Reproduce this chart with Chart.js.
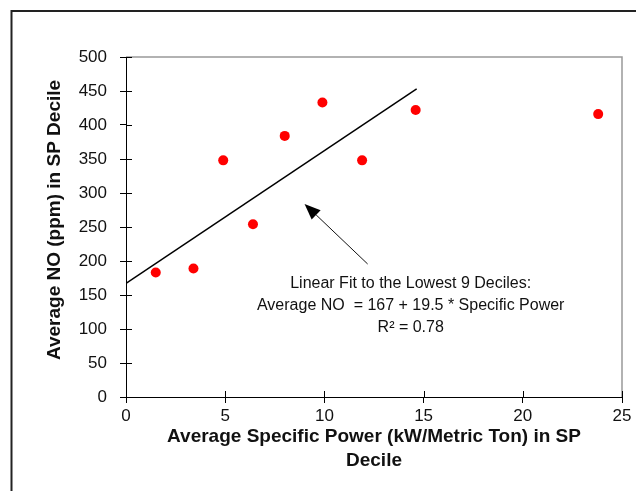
<!DOCTYPE html>
<html>
<head>
<meta charset="utf-8">
<script src="https://cdn.jsdelivr.net/npm/chart.js@4/dist/chart.umd.min.js"></script>
<style>
  html, body { margin: 0; padding: 0; background: #fff; }
  canvas { display: block; }
</style>
</head>
<body>
<canvas id="no-chart" width="636" height="491"></canvas>
<script>
// decile averages
const specificPower = [1.5, 3.4, 4.9, 6.4, 8.0, 9.9, 11.9, 14.6, 23.8];
const averageNO = [183, 189, 348, 254, 384, 433, 348, 422, 416];

// fitted line end points
const fitX = [0, 14.65];
const fitY = [167, 453];

const xTicks = [0, 5, 10, 15, 20, 25];
const yTicks = [0, 50, 100, 150, 200, 250, 300, 350, 400, 450, 500];

const fitText = [
    'Linear Fit to the Lowest 9 Deciles:',
    'Average NO  = 167 + 19.5 * Specific Power',
    'R\u00b2 = 0.78'
];

const FONT = '"Liberation Sans", Arial, sans-serif';

// frame, top/right box, inward tick halves, arrow, fit text, y title
const extrasPlugin = {
    id: 'extras',
    beforeDraw(chart) {
        const ctx = chart.ctx;
        ctx.save();
        ctx.strokeStyle = '#222';
        ctx.lineWidth = 2;
        ctx.beginPath();
        ctx.moveTo(11.5, 491);
        ctx.lineTo(11.5, 11);
        ctx.lineTo(636, 11);
        ctx.stroke();
        ctx.restore();
    },
    afterDatasetsDraw(chart) {
        const ctx = chart.ctx;
        const { left, right, top, bottom } = chart.chartArea;
        const xs = chart.scales.x, ys = chart.scales.y;
        ctx.save();

        ctx.strokeStyle = '#999';
        ctx.lineWidth = 1.5;
        ctx.beginPath();
        ctx.moveTo(left, top);
        ctx.lineTo(right, top);
        ctx.lineTo(right, bottom);
        ctx.stroke();

        ctx.strokeStyle = '#000';
        ctx.lineWidth = 1;
        ctx.beginPath();
        xTicks.forEach(v => {
            const px = Math.round(xs.getPixelForValue(v)) + 0.5;
            ctx.moveTo(px, bottom);
            ctx.lineTo(px, bottom - 6);
        });
        yTicks.forEach(v => {
            const py = Math.round(ys.getPixelForValue(v)) + 0.5;
            ctx.moveTo(left, py);
            ctx.lineTo(left + 6, py);
        });
        ctx.stroke();

        // arrow
        const x1 = xs.getPixelForValue(12.18), y1 = ys.getPixelForValue(195.6);
        const x2 = xs.getPixelForValue(9.0), y2 = ys.getPixelForValue(284);
        const ang = Math.atan2(y2 - y1, x2 - x1);
        const headLen = 16, headW = 6.5;
        const bx = x2 - headLen * Math.cos(ang), by = y2 - headLen * Math.sin(ang);
        ctx.strokeStyle = '#111';
        ctx.lineWidth = 1;
        ctx.beginPath();
        ctx.moveTo(x1, y1);
        ctx.lineTo(bx, by);
        ctx.stroke();
        ctx.fillStyle = '#000';
        ctx.beginPath();
        ctx.moveTo(x2, y2);
        ctx.lineTo(bx + headW * Math.sin(ang), by - headW * Math.cos(ang));
        ctx.lineTo(bx - headW * Math.sin(ang), by + headW * Math.cos(ang));
        ctx.closePath();
        ctx.fill();

        // fit text
        ctx.font = '16px ' + FONT;
        ctx.fillStyle = '#111';
        ctx.textAlign = 'center';
        ctx.textBaseline = 'middle';
        const tx = xs.getPixelForValue(14.35);
        const ty = ys.getPixelForValue(167);
        fitText.forEach((line, i) => ctx.fillText(line, tx, ty + i * 22));

        // y axis title, sits a little above the plot centre in the original
        ctx.font = 'bold 19px ' + FONT;
        ctx.translate(55, 220);
        ctx.rotate(-Math.PI / 2);
        ctx.fillText('Average NO (ppm) in SP Decile', 0, 0);
        ctx.restore();
    }
};

function renderChart() {
    const ctx = document.getElementById('no-chart').getContext('2d');
    new Chart(ctx, {
        type: 'scatter',
        data: {
            datasets: [{
                label: 'Average NO',
                data: specificPower.map((x, i) => ({ x: x, y: averageNO[i] })),
                backgroundColor: '#ff0000',
                borderWidth: 0,
                pointRadius: 5,
                pointStyle: 'circle'
            }, {
                type: 'line',
                label: 'Linear fit',
                data: fitX.map((x, i) => ({ x: x, y: fitY[i] })),
                borderColor: '#000',
                borderWidth: 1.5,
                pointRadius: 0,
                fill: false
            }]
        },
        options: {
            responsive: false,
            animation: false,
            layout: { padding: { left: 0, top: 57, right: 14, bottom: 0 } },
            plugins: {
                legend: { display: false },
                tooltip: { enabled: false }
            },
            scales: {
                x: {
                    type: 'linear',
                    min: 0,
                    max: 25,
                    afterBuildTicks: scale => { scale.ticks = xTicks.map(v => ({ value: v })); },
                    afterFit: scale => { scale.height = 94; },
                    border: { display: true, color: '#000', width: 1 },
                    grid: { drawOnChartArea: false, tickLength: 6, color: '#000' },
                    ticks: {
                        color: '#111',
                        padding: 3,
                        maxRotation: 0,
                        font: { family: FONT, size: 17 }
                    },
                    title: {
                        display: true,
                        text: ['Average Specific Power (kW/Metric Ton) in SP', 'Decile'],
                        color: '#111',
                        font: { family: FONT, size: 19, weight: 'bold', lineHeight: 24 / 19 },
                        padding: { top: 0, bottom: 18 }
                    }
                },
                y: {
                    type: 'linear',
                    min: 0,
                    max: 500,
                    afterBuildTicks: scale => { scale.ticks = yTicks.map(v => ({ value: v })); },
                    afterFit: scale => { scale.width = 126; },
                    border: { display: true, color: '#000', width: 1 },
                    grid: { drawOnChartArea: false, tickLength: 6, color: '#000' },
                    ticks: {
                        color: '#111',
                        padding: 13,
                        font: { family: FONT, size: 17 }
                    },
                    title: { display: false }
                }
            }
        },
        plugins: [extrasPlugin]
    });
}

window.onload = renderChart;
</script>
</body>
</html>
